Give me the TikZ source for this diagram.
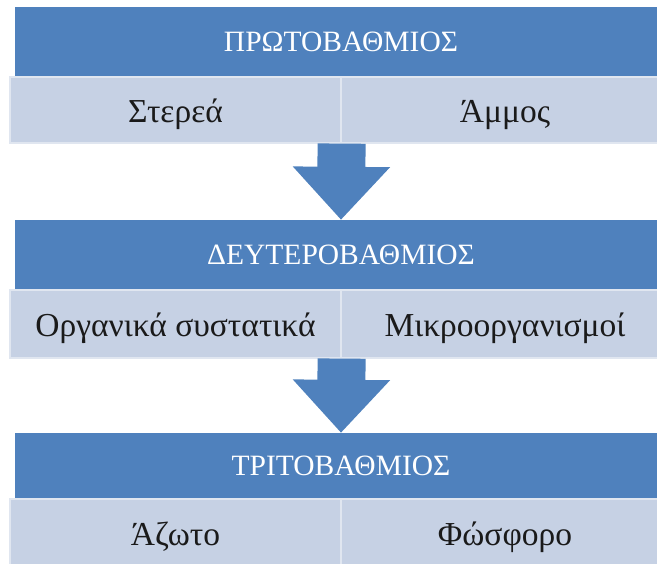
\documentclass[tikz,border=0pt]{standalone}
\usepackage{fontspec}
\setmainfont{Liberation Serif}
\usetikzlibrary{arrows.meta}
\definecolor{hdrblue}{HTML}{4F81BD}
\definecolor{cellblue}{HTML}{C6D1E4}
\definecolor{celltext}{HTML}{1A1A1A}
\tikzset{
  hdr/.style={rectangle, fill=hdrblue, inner sep=0pt, minimum width=652pt,
    text=white, font=\fontsize{29.5}{32}\selectfont},
  cell/.style={rectangle, fill=cellblue, draw=white!45!cellblue, line width=1.2pt,
    inner sep=0pt, text=celltext, text height=28pt, text depth=2pt,
    font=\fontsize{33.5}{36}\selectfont},
  flow/.style={hdrblue, line width=48pt,
    -{Triangle[width=94pt,length=53pt]}}
}
\begin{document}
\begin{tikzpicture}[x=1pt,y=-1pt]
\useasboundingbox (0,0) rectangle (657,564);
\clip (0,0) rectangle (657,564);
% level 1
\node[hdr, minimum height=70pt] (b1) at (341,42) {ΠΡΩΤΟΒΑΘΜΙΟΣ};
\node[cell, minimum width=331pt, minimum height=66pt] (l1a) at (175.5,110) {Στερεά};
\node[cell, minimum width=328pt, minimum height=66pt] (l1b) at (505,110) {Άμμος};
% level 2
\node[hdr, minimum height=70pt] (b2) at (341,255) {ΔΕΥΤΕΡΟΒΑΘΜΙΟΣ};
\node[cell, minimum width=331pt, minimum height=68pt] (l2a) at (175.5,324) {Οργανικά συστατικά};
\node[cell, minimum width=328pt, minimum height=68pt] (l2b) at (505,324) {Μικροοργανισμοί};
% level 3
\node[hdr, minimum height=66pt] (b3) at (341,466) {ΤΡΙΤΟΒΑΘΜΙΟΣ};
\node[cell, minimum width=331pt, minimum height=66pt] (l3a) at (175.5,532) {Άζωτο};
\node[cell, minimum width=328pt, minimum height=66pt] (l3b) at (505,532) {Φώσφορο};
% arrows
\draw[flow] (l1a.south east) -- (b2.north);
\draw[flow] (l2a.south east) -- (b3.north);
\end{tikzpicture}
\end{document}
